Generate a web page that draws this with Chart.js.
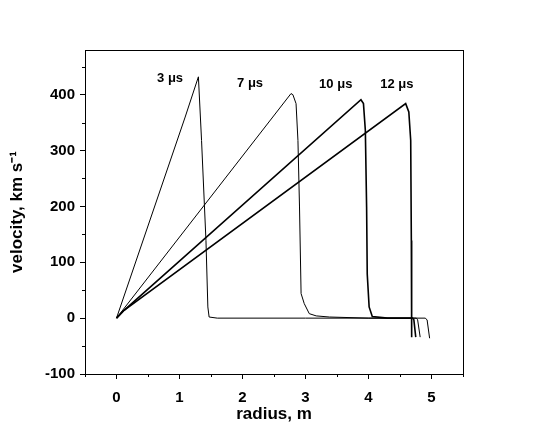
<!DOCTYPE html>
<html>
<head>
<meta charset="utf-8">
<script src="https://cdn.jsdelivr.net/npm/chart.js@4/dist/chart.umd.min.js"></script>
<style>
html,body{margin:0;padding:0;background:#fff;}
#wrap{width:539px;height:437px;}
</style>
</head>
<body>
<div id="wrap"><canvas id="c" width="539" height="437"></canvas></div>
<script>
// ---- data (radius in m, velocity in km/s) ----
const r3  = [0, 1.09, 1.30, 1.35, 1.42, 1.45, 1.47, 1.60, 3.00, 4.90, 4.93, 4.97];
const v3  = [0, 360, 432, 318, 139, 20, 2, 0, 0, 0, -3, -36];
const r7  = [0, 2.77, 2.80, 2.85, 2.88, 2.905, 2.93, 2.98, 3.06, 3.17, 3.38, 4.00, 4.76, 4.78, 4.82];
const v7  = [0, 402, 400, 384, 318, 199, 44, 26, 8, 4, 2, 0, 0, -3, -34];
const r10 = [0, 0.12, 3.88, 3.92, 3.95, 3.97, 3.98, 4.01, 4.06, 4.30, 4.70, 4.72, 4.75];
const v10 = [0, 14, 391, 384, 336, 199, 79, 20, 3, 0, 0, -3, -34];
const r12 = [0, 0.12, 4.59, 4.64, 4.67, 4.68, 4.685, 4.685];
const v12 = [0, 14, 384, 369, 318, 139, 2, -34];

const seriesNames = ['3 μs', '7 μs', '10 μs', '12 μs'];
const labelR = [0.85, 2.12, 3.48, 4.45];
const labelV = [430, 420, 418, 418];

const xTicks = [0, 1, 2, 3, 4, 5];
const yTicks = [-100, 0, 100, 200, 300, 400];
const xMinor = [-0.5, 0.5, 1.5, 2.5, 3.5, 4.5, 5.5];
const yMinor = [-50, 50, 150, 250, 350, 450];

const FONT = '"Liberation Sans", Arial, sans-serif';

function pts(xs, ys){ return xs.map((x,i)=>({x:x, y:ys[i]})); }

const framePlugin = {
  id: 'frame',
  afterDraw(chart){
    const ctx = chart.ctx, a = chart.chartArea;
    const xs = chart.scales.x, ys = chart.scales.y;
    ctx.save();
    ctx.strokeStyle = '#000';
    ctx.lineWidth = 1;
    ctx.strokeRect(Math.round(a.left)+0.5, Math.round(a.top)+0.5, Math.round(a.right-a.left), Math.round(a.bottom-a.top));
    ctx.beginPath();
    xMinor.forEach(v=>{
      const px = Math.round(xs.getPixelForValue(v))+0.5;
      ctx.moveTo(px, a.bottom); ctx.lineTo(px, a.bottom+3);
    });
    yMinor.forEach(v=>{
      const py = Math.round(ys.getPixelForValue(v))+0.5;
      ctx.moveTo(a.left, py); ctx.lineTo(a.left-3, py);
    });
    ctx.stroke();
    ctx.fillStyle = '#000';
    ctx.font = 'bold 13px ' + FONT;
    ctx.textAlign = 'center';
    ctx.textBaseline = 'middle';
    seriesNames.forEach((t,i)=>{
      ctx.fillText(t, xs.getPixelForValue(labelR[i]), ys.getPixelForValue(labelV[i]));
    });
    ctx.restore();
  }
};

const mk = (xs, ys, w) => ({
  data: pts(xs, ys), borderColor:'#000', borderWidth:w, pointRadius:0,
  fill:false, tension:0, showLine:true
});

new Chart(document.getElementById('c'), {
  type: 'scatter',
  data: { datasets: [ mk(r3,v3,1), mk(r7,v7,1), mk(r10,v10,1.6), mk(r12,v12,1.6) ] },
  options: {
    responsive:false, animation:false, devicePixelRatio:1,
    layout:{ padding:{ left:0, right:76, top:50, bottom:0 } },
    plugins:{ legend:{display:false}, tooltip:{enabled:false} },
    scales:{
      x:{
        type:'linear', min:-0.5, max:5.5,
        afterBuildTicks(s){ s.ticks = xTicks.map(v=>({value:v})); },
        afterFit(s){ s.height = 63; },
        grid:{ drawOnChartArea:false, drawTicks:true, tickLength:5, color:'#000', tickColor:'#000' },
        border:{ display:true, color:'#000', width:1 },
        ticks:{ color:'#000', padding:10, font:{ family:FONT, size:15, weight:'bold' }, maxRotation:0 },
        title:{ display:true, text:'radius, m', color:'#000', font:{ family:FONT, size:17, weight:'bold' }, padding:{top:0,bottom:12} }
      },
      y:{
        type:'linear', min:-100, max:480,
        afterBuildTicks(s){ s.ticks = yTicks.map(v=>({value:v})); },
        afterFit(s){ s.width = 85; },
        grid:{ drawOnChartArea:false, drawTicks:true, tickLength:5, color:'#000', tickColor:'#000' },
        border:{ display:true, color:'#000', width:1 },
        ticks:{ color:'#000', padding:5, font:{ family:FONT, size:15, weight:'bold' } },
        title:{ display:true, text:'velocity, km s⁻¹', color:'#000', font:{ family:FONT, size:17, weight:'bold' }, padding:{top:7,bottom:0} }
      }
    }
  },
  plugins:[framePlugin]
});
</script>
</body>
</html>
